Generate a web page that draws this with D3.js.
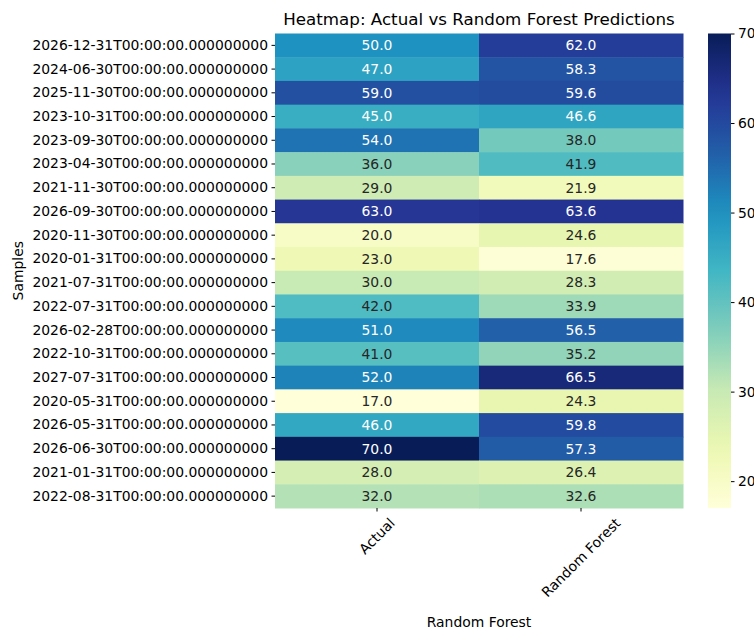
<!DOCTYPE html>
<html>
<head>
<meta charset="utf-8">
<script src="https://cdn.jsdelivr.net/npm/d3@7"></script>
<style>
  body { margin: 0; background: #fff; }
  svg { font-family: "DejaVu Sans", sans-serif; }
</style>
</head>
<body>
<svg width="754" height="630"></svg>
<script>
// data
var samples = [
  "2026-12-31T00:00:00.000000000", "2024-06-30T00:00:00.000000000",
  "2025-11-30T00:00:00.000000000", "2023-10-31T00:00:00.000000000",
  "2023-09-30T00:00:00.000000000", "2023-04-30T00:00:00.000000000",
  "2021-11-30T00:00:00.000000000", "2026-09-30T00:00:00.000000000",
  "2020-11-30T00:00:00.000000000", "2020-01-31T00:00:00.000000000",
  "2021-07-31T00:00:00.000000000", "2022-07-31T00:00:00.000000000",
  "2026-02-28T00:00:00.000000000", "2022-10-31T00:00:00.000000000",
  "2027-07-31T00:00:00.000000000", "2020-05-31T00:00:00.000000000",
  "2026-05-31T00:00:00.000000000", "2026-06-30T00:00:00.000000000",
  "2021-01-31T00:00:00.000000000", "2022-08-31T00:00:00.000000000"
];
var models = ["Actual", "Random Forest"];
var actual = [50.0, 47.0, 59.0, 45.0, 54.0, 36.0, 29.0, 63.0, 20.0, 23.0,
              30.0, 42.0, 51.0, 41.0, 52.0, 17.0, 46.0, 70.0, 28.0, 32.0];
var randomForest = [62.0, 58.3, 59.6, 46.6, 38.0, 41.9, 21.9, 63.6, 24.6, 17.6,
                    28.3, 33.9, 56.5, 35.2, 66.5, 24.3, 59.8, 57.3, 26.4, 32.6];
var cbTicks = [20, 30, 40, 50, 60, 70];

var svg = d3.select('svg');
var hmLeft = 275, hmRight = 683, hmTop = 33.5, hmBottom = 508;
var fs = '13.9px';

var cells = [];
samples.forEach(function(s, i) {
  cells.push({ row: s, col: models[0], v: actual[i] });
  cells.push({ row: s, col: models[1], v: randomForest[i] });
});
var vmin = d3.min(cells, function(d) { return d.v; });
var vmax = d3.max(cells, function(d) { return d.v; });

// YlGnBu as matplotlib builds it (linear between the brewer colours)
var ylgnbu = ["#ffffd9", "#edf8b1", "#c7e9b4", "#7fcdbb", "#41b6c4",
              "#1d91c0", "#225ea8", "#253494", "#081d58"];
var color = d3.scaleLinear()
  .domain(ylgnbu.map(function(c, i) { return vmin + (vmax - vmin) * i / (ylgnbu.length - 1); }))
  .range(ylgnbu).interpolate(d3.interpolateRgb);

var x = d3.scaleBand().domain(models).range([hmLeft, hmRight]);
var y = d3.scaleBand().domain(samples).range([hmTop, hmBottom]);

function lum(c) {
  var rgb = d3.rgb(c);
  var f = function(v) { v /= 255; return v <= 0.03928 ? v / 12.92 : Math.pow((v + 0.055) / 1.055, 2.4); };
  return 0.2126 * f(rgb.r) + 0.7152 * f(rgb.g) + 0.0722 * f(rgb.b);
}

svg.selectAll('rect.cell').data(cells).enter().append('rect')
  .attr('class', 'cell')
  .attr('x', function(d) { return x(d.col); })
  .attr('y', function(d) { return y(d.row); })
  .attr('width', x.bandwidth() + 0.5)
  .attr('height', y.bandwidth() + 0.5)
  .attr('fill', function(d) { return color(d.v); });

svg.selectAll('text.val').data(cells).enter().append('text')
  .attr('class', 'val')
  .attr('x', function(d) { return x(d.col) + x.bandwidth() / 2; })
  .attr('y', function(d) { return y(d.row) + y.bandwidth() / 2; })
  .attr('dy', '0.35em')
  .attr('text-anchor', 'middle')
  .style('font-size', fs)
  .attr('fill', function(d) { return lum(color(d.v)) > 0.39 ? '#262626' : '#ffffff'; })
  .text(function(d) { return d.v.toFixed(1); });

// axes
var yAxis = svg.append('g').attr('transform', 'translate(' + hmLeft + ',0)')
  .call(d3.axisLeft(y).tickSize(3.5).tickPadding(3.5));
yAxis.select('.domain').remove();
yAxis.selectAll('text').style('font-size', fs).attr('fill', '#000').style('font-family', '"DejaVu Sans"');

var xAxis = svg.append('g').attr('transform', 'translate(0,' + hmBottom + ')')
  .call(d3.axisBottom(x).tickSize(3.5).tickPadding(3.5));
xAxis.select('.domain').remove();
// rotated 45 deg, bounding box centred under the tick (matplotlib ha=center)
xAxis.selectAll('.tick text')
  .style('font-size', fs).attr('fill', '#000').style('font-family', '"DejaVu Sans"')
  .attr('text-anchor', 'middle')
  .attr('dy', '0.35em')
  .attr('y', 0)
  .attr('transform', function() {
    var w = this.getComputedTextLength();
    var h = 16;
    var half = (w + h) * Math.SQRT1_2 / 2;
    return 'translate(0,' + (7 + half) + ') rotate(-45)';
  });

svg.append('text').attr('x', (hmLeft + hmRight) / 2).attr('y', 627)
  .attr('text-anchor', 'middle').style('font-size', fs).text('Random Forest');
svg.append('text').attr('transform', 'translate(23,' + (hmTop + hmBottom) / 2 + ') rotate(-90)')
  .attr('text-anchor', 'middle').style('font-size', fs).text('Samples');
svg.append('text').attr('x', (hmLeft + hmRight) / 2).attr('y', 25)
  .attr('text-anchor', 'middle').style('font-size', '16.7px').text('Heatmap: Actual vs Random Forest Predictions');

// colorbar
var cbX = 708, cbW = 23;
var defs = svg.append('defs');
var grad = defs.append('linearGradient').attr('id', 'cbgrad')
  .attr('x1', 0).attr('y1', 1).attr('x2', 0).attr('y2', 0);
d3.range(0, 1.0001, 0.05).forEach(function(t) {
  grad.append('stop').attr('offset', t).attr('stop-color', color(vmin + t * (vmax - vmin)));
});
svg.append('rect').attr('x', cbX).attr('y', hmTop).attr('width', cbW).attr('height', hmBottom - hmTop)
  .attr('fill', 'url(#cbgrad)');
var cbScale = d3.scaleLinear().domain([vmin, vmax]).range([hmBottom, hmTop]);
var cbAxis = svg.append('g').attr('transform', 'translate(' + (cbX + cbW) + ',0)')
  .call(d3.axisRight(cbScale).tickValues(cbTicks).tickSize(3.5).tickPadding(3.5));
cbAxis.select('.domain').remove();
cbAxis.selectAll('text').style('font-size', fs).attr('fill', '#000').style('font-family', '"DejaVu Sans"');
</script>
</body>
</html>
